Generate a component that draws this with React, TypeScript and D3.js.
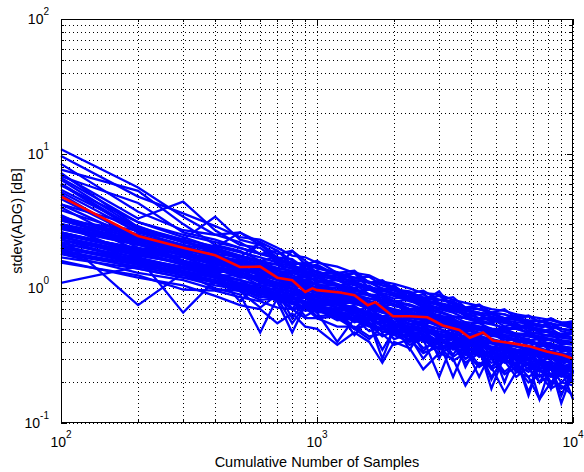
import React from "react";
import * as d3 from "d3";

const WIDTH = 584;
const HEIGHT = 472;
const Plot = { left: 61, top: 19, right: 573, bottom: 423 };
const FONT = "'Liberation Sans', Arial, Helvetica, sans-serif";

// cumulative sample counts where each run was evaluated
const sampleCounts = [
  100, 200, 300, 400, 500, 600, 700, 800, 900, 1000, 1200, 1400, 1600, 1800,
  2000, 2300, 2600, 3000, 3400, 3800, 4300, 4800, 5400, 6000, 6700, 7400,
  8200, 9000, 10000,
];

// stdev(ADG) per run
const runs: number[][] = [
  [10.8, 5.6, 3.4, 2.5, 2.6, 2.1, 1.8, 1.9, 1.5, 1.6, 1.3, 1.35, 1.1, 1.15, 1.0, 0.92, 0.96, 0.82, 0.86, 0.72, 0.76, 0.66, 0.7, 0.6, 0.63, 0.56, 0.6, 0.55, 0.57],
  [8.4, 3.7, 2.7, 2.5, 2.2, 1.8, 1.9, 1.6, 1.45, 1.5, 1.25, 1.2, 1.22, 1.05, 1.02, 0.9, 0.84, 0.88, 0.76, 0.72, 0.7, 0.66, 0.6, 0.62, 0.56, 0.58, 0.52, 0.54, 0.5],
  [7.6, 5.3, 3.0, 2.1, 1.9, 1.6, 1.7, 1.45, 1.3, 1.35, 1.15, 1.0, 1.05, 0.9, 0.84, 0.88, 0.74, 0.7, 0.72, 0.62, 0.58, 0.6, 0.52, 0.55, 0.48, 0.5, 0.46, 0.44, 0.46],
  [7.0, 3.3, 4.4, 2.7, 2.1, 2.0, 1.6, 1.55, 1.5, 1.3, 1.3, 1.15, 1.1, 1.0, 0.96, 0.86, 0.9, 0.78, 0.74, 0.7, 0.64, 0.66, 0.58, 0.6, 0.54, 0.52, 0.55, 0.5, 0.48],
  [6.4, 2.8, 2.3, 3.4, 2.3, 2.1, 1.7, 1.65, 1.4, 1.45, 1.25, 1.3, 1.1, 1.1, 0.98, 0.95, 0.84, 0.82, 0.8, 0.72, 0.7, 0.66, 0.64, 0.6, 0.62, 0.56, 0.58, 0.55, 0.53],
  [5.8, 3.1, 2.4, 2.0, 2.6, 2.2, 1.6, 1.5, 1.55, 1.3, 1.2, 1.12, 0.98, 1.0, 0.88, 0.84, 0.8, 0.7, 0.74, 0.62, 0.64, 0.56, 0.58, 0.5, 0.52, 0.47, 0.5, 0.44, 0.46],
  [5.2, 2.6, 2.3, 1.8, 1.7, 2.2, 1.9, 1.5, 1.35, 1.25, 1.05, 1.08, 0.9, 0.82, 0.8, 0.7, 0.72, 0.62, 0.6, 0.52, 0.56, 0.48, 0.5, 0.44, 0.46, 0.41, 0.42, 0.38, 0.4],
  [4.6, 2.4, 2.1, 1.7, 1.6, 1.45, 1.4, 1.9, 1.6, 1.4, 1.32, 1.15, 1.12, 0.98, 1.0, 0.86, 0.84, 0.74, 0.72, 0.64, 0.66, 0.56, 0.6, 0.52, 0.54, 0.48, 0.5, 0.45, 0.47],
  [4.2, 2.3, 1.75, 1.65, 1.35, 1.4, 1.15, 1.05, 1.08, 1.0, 0.9, 0.92, 0.8, 0.74, 0.76, 0.68, 0.6, 0.64, 0.56, 0.55, 0.5, 0.47, 0.48, 0.44, 0.41, 0.42, 0.38, 0.37, 0.36],
  [3.8, 2.5, 1.9, 1.55, 1.6, 1.3, 1.25, 1.18, 1.1, 1.0, 1.02, 0.88, 0.84, 0.8, 0.74, 0.7, 0.68, 0.6, 0.58, 0.54, 0.52, 0.5, 0.45, 0.44, 0.42, 0.38, 0.39, 0.35, 0.34],
  [3.5, 1.9, 1.7, 1.4, 1.3, 1.2, 1.05, 1.0, 0.94, 0.88, 0.84, 0.76, 0.74, 0.68, 0.64, 0.6, 0.58, 0.52, 0.5, 0.46, 0.44, 0.42, 0.38, 0.37, 0.35, 0.33, 0.32, 0.3, 0.31],
  [3.2, 2.7, 2.0, 1.85, 1.45, 1.45, 1.2, 1.2, 1.0, 1.02, 0.88, 0.88, 0.76, 0.78, 0.66, 0.68, 0.58, 0.6, 0.5, 0.52, 0.45, 0.48, 0.4, 0.43, 0.37, 0.4, 0.34, 0.36, 0.32],
  [3.0, 1.75, 1.55, 1.25, 1.25, 1.05, 1.05, 0.88, 0.9, 0.76, 0.78, 0.66, 0.68, 0.56, 0.6, 0.48, 0.52, 0.42, 0.46, 0.36, 0.4, 0.32, 0.36, 0.29, 0.32, 0.27, 0.29, 0.25, 0.27],
  [2.8, 2.15, 1.55, 1.45, 1.2, 1.25, 1.05, 1.05, 0.9, 0.9, 0.78, 0.78, 0.7, 0.62, 0.64, 0.54, 0.56, 0.46, 0.5, 0.4, 0.44, 0.36, 0.4, 0.33, 0.36, 0.3, 0.33, 0.28, 0.3],
  [2.6, 1.95, 1.85, 1.45, 1.35, 1.1, 1.1, 0.92, 0.94, 0.8, 0.82, 0.68, 0.72, 0.58, 0.62, 0.5, 0.54, 0.43, 0.47, 0.38, 0.43, 0.34, 0.38, 0.3, 0.34, 0.28, 0.31, 0.26, 0.28],
  [2.45, 1.65, 1.45, 1.2, 1.15, 0.95, 1.0, 0.84, 0.86, 0.74, 0.76, 0.62, 0.64, 0.52, 0.56, 0.44, 0.48, 0.38, 0.43, 0.33, 0.38, 0.3, 0.33, 0.27, 0.3, 0.25, 0.27, 0.23, 0.25],
  [2.3, 1.6, 1.4, 1.25, 1.05, 1.05, 0.86, 0.88, 0.76, 0.78, 0.64, 0.66, 0.54, 0.57, 0.47, 0.5, 0.4, 0.43, 0.35, 0.38, 0.31, 0.34, 0.28, 0.3, 0.25, 0.28, 0.23, 0.25, 0.22],
  [2.1, 1.5, 1.35, 1.1, 1.08, 0.92, 0.92, 0.76, 0.8, 0.66, 0.68, 0.56, 0.6, 0.47, 0.52, 0.4, 0.45, 0.35, 0.4, 0.3, 0.35, 0.26, 0.31, 0.24, 0.28, 0.22, 0.26, 0.2, 0.24],
  [1.95, 1.4, 1.2, 1.12, 0.96, 0.94, 0.8, 0.78, 0.68, 0.7, 0.58, 0.6, 0.48, 0.52, 0.42, 0.46, 0.36, 0.4, 0.31, 0.36, 0.27, 0.32, 0.24, 0.28, 0.22, 0.25, 0.2, 0.23, 0.2],
  [1.8, 1.3, 1.15, 0.98, 0.96, 0.82, 0.84, 0.7, 0.72, 0.6, 0.62, 0.5, 0.54, 0.44, 0.48, 0.38, 0.42, 0.33, 0.37, 0.28, 0.33, 0.25, 0.29, 0.22, 0.26, 0.2, 0.23, 0.18, 0.21],
  [1.55, 1.25, 0.98, 0.96, 0.86, 0.8, 0.72, 0.7, 0.6, 0.6, 0.52, 0.52, 0.44, 0.46, 0.38, 0.42, 0.33, 0.37, 0.29, 0.33, 0.26, 0.3, 0.23, 0.26, 0.2, 0.23, 0.18, 0.2, 0.19],
  [1.1, 1.45, 1.35, 1.2, 1.0, 0.92, 0.84, 0.8, 0.72, 0.7, 0.62, 0.58, 0.55, 0.5, 0.47, 0.42, 0.42, 0.36, 0.37, 0.32, 0.33, 0.28, 0.3, 0.26, 0.27, 0.24, 0.25, 0.22, 0.23],
  [2.4, 0.75, 1.3, 1.1, 0.95, 0.72, 0.9, 0.7, 0.75, 0.62, 0.64, 0.5, 0.55, 0.48, 0.45, 0.4, 0.44, 0.35, 0.38, 0.3, 0.34, 0.22, 0.3, 0.27, 0.24, 0.28, 0.2, 0.24, 0.21],
  [3.0, 1.7, 0.66, 1.15, 1.0, 0.85, 0.95, 0.6, 0.8, 0.72, 0.7, 0.45, 0.6, 0.52, 0.55, 0.35, 0.5, 0.45, 0.32, 0.44, 0.38, 0.36, 0.2, 0.34, 0.3, 0.32, 0.18, 0.3, 0.27],
  [2.2, 1.6, 1.3, 1.0, 0.9, 0.47, 0.85, 0.8, 0.62, 0.7, 0.6, 0.5, 0.42, 0.52, 0.48, 0.44, 0.3, 0.42, 0.38, 0.36, 0.22, 0.34, 0.32, 0.3, 0.16, 0.28, 0.26, 0.14, 0.24],
  [2.6, 1.9, 1.5, 1.2, 1.1, 0.95, 0.8, 0.47, 0.75, 0.66, 0.4, 0.6, 0.56, 0.3, 0.5, 0.46, 0.42, 0.22, 0.4, 0.38, 0.36, 0.18, 0.32, 0.3, 0.28, 0.15, 0.27, 0.25, 0.15],
  [4.0, 2.0, 1.8, 1.6, 1.5, 2.2, 1.5, 1.4, 1.3, 1.1, 1.15, 1.3, 1.0, 0.95, 1.05, 0.85, 0.8, 0.95, 0.7, 0.68, 0.75, 0.6, 0.58, 0.64, 0.52, 0.5, 0.55, 0.48, 0.46],
  [1.6, 1.2, 1.05, 0.88, 0.75, 0.7, 0.55, 0.65, 0.52, 0.5, 0.38, 0.47, 0.4, 0.28, 0.4, 0.36, 0.25, 0.33, 0.3, 0.19, 0.28, 0.26, 0.17, 0.24, 0.22, 0.15, 0.2, 0.19, 0.16],
  [5.4, 2.8, 2.2, 1.9, 1.65, 1.5, 1.35, 1.25, 1.15, 1.2, 1.05, 0.95, 0.98, 0.88, 0.8, 0.82, 0.72, 0.7, 0.66, 0.6, 0.58, 0.55, 0.5, 0.52, 0.46, 0.44, 0.45, 0.41, 0.4],
  [3.4, 2.3, 1.6, 1.4, 1.2, 1.2, 1.0, 0.95, 0.85, 0.82, 0.72, 0.74, 0.62, 0.6, 0.55, 0.52, 0.5, 0.45, 0.43, 0.42, 0.37, 0.36, 0.34, 0.31, 0.3, 0.29, 0.27, 0.26, 0.25],
  [6.8, 4.3, 2.6, 2.3, 2.0, 1.8, 1.7, 1.45, 1.35, 1.25, 1.25, 1.1, 1.0, 0.96, 0.9, 0.82, 0.78, 0.76, 0.68, 0.66, 0.6, 0.6, 0.55, 0.54, 0.5, 0.48, 0.47, 0.45, 0.43],
  [9.6, 4.8, 3.6, 2.9, 2.4, 2.3, 2.0, 1.75, 1.7, 1.55, 1.45, 1.3, 1.25, 1.12, 1.08, 1.0, 0.92, 0.9, 0.82, 0.78, 0.74, 0.7, 0.68, 0.64, 0.62, 0.6, 0.58, 0.56, 0.55],
  [2.0, 1.55, 1.25, 1.35, 1.0, 1.05, 0.9, 0.82, 0.85, 0.72, 0.7, 0.66, 0.58, 0.6, 0.5, 0.48, 0.46, 0.38, 0.42, 0.34, 0.36, 0.3, 0.31, 0.24, 0.28, 0.25, 0.22, 0.24, 0.2],
  [2.9, 2.2, 1.6, 1.3, 1.4, 1.15, 1.1, 1.0, 0.88, 0.95, 0.8, 0.82, 0.7, 0.66, 0.68, 0.58, 0.55, 0.56, 0.48, 0.46, 0.45, 0.4, 0.39, 0.37, 0.35, 0.34, 0.32, 0.32, 0.3],
  [5.0, 2.3, 1.95, 1.7, 1.6, 1.45, 1.35, 1.3, 1.2, 1.15, 1.05, 1.0, 0.9, 0.88, 0.8, 0.76, 0.7, 0.68, 0.62, 0.6, 0.56, 0.55, 0.5, 0.5, 0.47, 0.46, 0.44, 0.43, 0.42],
  [2.05, 1.6, 1.4, 1.25, 1.15, 1.05, 0.95, 0.9, 0.85, 0.8, 0.72, 0.68, 0.62, 0.6, 0.55, 0.52, 0.5, 0.46, 0.44, 0.41, 0.4, 0.37, 0.36, 0.34, 0.33, 0.32, 0.31, 0.29, 0.29],
  [3.4, 2.4, 2.0, 1.7, 1.5, 1.35, 1.2, 1.1, 1.05, 0.95, 0.85, 0.78, 0.72, 0.66, 0.62, 0.57, 0.54, 0.5, 0.46, 0.43, 0.41, 0.39, 0.37, 0.35, 0.34, 0.33, 0.31, 0.3, 0.29],
  [2.3, 1.75, 1.55, 1.35, 1.3, 1.2, 1.1, 1.05, 1.0, 0.95, 0.88, 0.82, 0.76, 0.74, 0.7, 0.66, 0.62, 0.6, 0.56, 0.54, 0.52, 0.5, 0.48, 0.46, 0.45, 0.44, 0.42, 0.41, 0.4],
  [4.2, 2.9, 2.2, 2.0, 1.75, 1.55, 1.5, 1.3, 1.25, 1.12, 1.05, 0.92, 0.9, 0.78, 0.76, 0.66, 0.64, 0.58, 0.55, 0.5, 0.5, 0.45, 0.45, 0.4, 0.41, 0.37, 0.38, 0.34, 0.35],
  [1.9, 1.5, 1.3, 1.1, 1.05, 0.9, 0.9, 0.8, 0.78, 0.7, 0.68, 0.6, 0.6, 0.52, 0.54, 0.46, 0.48, 0.4, 0.44, 0.36, 0.4, 0.34, 0.37, 0.31, 0.34, 0.28, 0.32, 0.27, 0.3],
  [2.8, 2.1, 1.8, 1.5, 1.45, 1.25, 1.2, 1.08, 1.1, 0.96, 0.92, 0.8, 0.8, 0.7, 0.7, 0.6, 0.62, 0.54, 0.55, 0.48, 0.5, 0.44, 0.45, 0.4, 0.42, 0.37, 0.39, 0.34, 0.36],
  [3.0, 2.3, 1.9, 1.75, 1.6, 1.5, 1.4, 1.35, 1.3, 1.25, 1.15, 1.1, 1.0, 0.98, 0.92, 0.86, 0.82, 0.78, 0.72, 0.7, 0.66, 0.64, 0.6, 0.58, 0.56, 0.54, 0.52, 0.5, 0.49],
  [2.5, 2.0, 1.6, 1.45, 1.3, 1.15, 1.05, 1.0, 0.92, 0.85, 0.76, 0.7, 0.64, 0.6, 0.55, 0.52, 0.48, 0.45, 0.42, 0.39, 0.37, 0.35, 0.33, 0.32, 0.3, 0.29, 0.28, 0.27, 0.26],
  [6.0, 2.7, 2.2, 1.95, 1.75, 1.6, 1.5, 1.4, 1.35, 1.25, 1.15, 1.05, 0.98, 0.92, 0.88, 0.8, 0.76, 0.72, 0.68, 0.64, 0.6, 0.58, 0.56, 0.53, 0.52, 0.5, 0.48, 0.46, 0.46],
  [2.0, 1.65, 1.35, 1.2, 1.1, 1.0, 0.92, 0.86, 0.8, 0.74, 0.7, 0.5, 0.62, 0.58, 0.52, 0.5, 0.34, 0.45, 0.42, 0.38, 0.36, 0.26, 0.34, 0.32, 0.3, 0.2, 0.28, 0.27, 0.25],
  [2.4, 1.85, 1.5, 1.4, 1.25, 1.12, 1.05, 0.98, 0.9, 0.86, 0.78, 0.72, 0.66, 0.62, 0.6, 0.55, 0.53, 0.5, 0.46, 0.44, 0.42, 0.4, 0.38, 0.37, 0.35, 0.34, 0.33, 0.31, 0.3],
  [3.2, 2.2, 2.0, 1.65, 1.62, 1.4, 1.35, 1.2, 1.22, 1.05, 1.06, 0.9, 0.9, 0.78, 0.8, 0.7, 0.7, 0.62, 0.62, 0.56, 0.55, 0.5, 0.5, 0.46, 0.46, 0.43, 0.42, 0.4, 0.4],
  [1.7, 1.4, 1.2, 1.05, 0.98, 0.88, 0.82, 0.78, 0.72, 0.68, 0.62, 0.58, 0.52, 0.5, 0.46, 0.44, 0.41, 0.38, 0.36, 0.34, 0.32, 0.31, 0.29, 0.28, 0.27, 0.26, 0.25, 0.24, 0.23],
  [2.6, 1.95, 1.7, 1.5, 1.38, 1.25, 1.15, 1.08, 1.02, 0.96, 0.88, 0.8, 0.74, 0.7, 0.66, 0.62, 0.58, 0.55, 0.52, 0.49, 0.46, 0.45, 0.42, 0.41, 0.39, 0.38, 0.36, 0.35, 0.34],
  [5.9, 2.6, 2.1, 1.9, 1.7, 1.55, 1.42, 1.35, 1.28, 1.2, 1.08, 0.98, 0.88, 0.82, 0.76, 0.7, 0.64, 0.6, 0.56, 0.52, 0.49, 0.47, 0.44, 0.42, 0.4, 0.39, 0.37, 0.36, 0.35],
  [2.9, 2.15, 1.75, 1.6, 1.45, 1.3, 1.25, 1.15, 1.1, 1.0, 0.94, 0.86, 0.8, 0.75, 0.5, 0.66, 0.62, 0.58, 0.56, 0.4, 0.5, 0.48, 0.45, 0.44, 0.3, 0.4, 0.39, 0.37, 0.36],
  [2.15, 1.7, 1.42, 1.3, 1.15, 1.05, 0.96, 0.9, 0.86, 0.8, 0.72, 0.66, 0.6, 0.58, 0.54, 0.5, 0.48, 0.44, 0.42, 0.4, 0.38, 0.36, 0.35, 0.33, 0.32, 0.31, 0.3, 0.29, 0.28],
  [7.2, 2.85, 2.3, 2.05, 1.85, 1.7, 1.55, 1.45, 1.4, 1.3, 1.2, 1.12, 1.02, 0.98, 0.92, 0.85, 0.8, 0.76, 0.7, 0.68, 0.64, 0.62, 0.58, 0.56, 0.55, 0.53, 0.51, 0.5, 0.48],
  [1.85, 1.5, 1.3, 1.15, 1.02, 0.98, 0.86, 0.84, 0.76, 0.74, 0.66, 0.63, 0.55, 0.55, 0.48, 0.48, 0.42, 0.42, 0.37, 0.37, 0.33, 0.34, 0.3, 0.31, 0.27, 0.28, 0.25, 0.26, 0.24],
  [3.0, 2.25, 1.85, 1.65, 1.5, 1.38, 1.28, 1.2, 1.15, 1.08, 0.98, 0.9, 0.84, 0.8, 0.74, 0.7, 0.66, 0.62, 0.58, 0.55, 0.52, 0.5, 0.47, 0.46, 0.44, 0.42, 0.41, 0.39, 0.38],
  [2.5, 1.9, 1.6, 1.42, 1.3, 1.2, 1.1, 0.7, 0.98, 0.92, 0.84, 0.78, 0.7, 0.68, 0.62, 0.58, 0.56, 0.3, 0.5, 0.47, 0.44, 0.42, 0.4, 0.25, 0.37, 0.36, 0.34, 0.33, 0.32],
  [3.3, 2.5, 2.05, 1.75, 1.6, 1.45, 1.35, 1.28, 1.55, 1.15, 1.05, 0.96, 0.9, 0.85, 0.8, 0.74, 0.7, 0.66, 0.62, 0.6, 0.56, 0.54, 0.51, 0.5, 0.47, 0.46, 0.44, 0.43, 0.42],
  [2.3, 1.8, 1.5, 1.3, 0.8, 1.1, 1.0, 0.95, 0.88, 0.82, 0.75, 0.7, 0.64, 0.61, 0.57, 0.54, 0.5, 0.48, 0.45, 0.26, 0.4, 0.39, 0.37, 0.35, 0.34, 0.33, 0.19, 0.3, 0.29],
  [2.75, 2.1, 1.75, 1.55, 1.4, 1.28, 1.18, 1.12, 1.05, 1.0, 0.9, 0.84, 0.76, 0.72, 0.68, 0.63, 0.6, 0.56, 0.53, 0.5, 0.47, 0.46, 0.43, 0.42, 0.4, 0.39, 0.37, 0.36, 0.35],
  [6.6, 3.1, 2.5, 2.2, 2.0, 1.8, 1.65, 1.55, 1.5, 1.42, 1.3, 1.2, 1.1, 1.05, 0.98, 0.92, 0.86, 0.82, 0.78, 0.72, 0.7, 0.66, 0.64, 0.6, 0.58, 0.57, 0.55, 0.53, 0.52],
  [1.8, 1.45, 1.25, 1.1, 1.0, 0.92, 0.85, 0.55, 0.75, 0.7, 0.64, 0.6, 0.55, 0.35, 0.49, 0.46, 0.43, 0.4, 0.22, 0.36, 0.34, 0.33, 0.31, 0.3, 0.17, 0.27, 0.26, 0.25, 0.24],
  [3.2, 2.35, 1.95, 1.7, 1.55, 1.4, 1.3, 1.2, 1.12, 1.05, 0.95, 0.86, 0.8, 0.74, 0.68, 0.62, 0.58, 0.53, 0.5, 0.46, 0.43, 0.42, 0.39, 0.37, 0.36, 0.35, 0.33, 0.32, 0.31],
  [2.4, 1.8, 1.55, 1.38, 1.28, 1.18, 1.1, 1.05, 1.0, 0.94, 0.86, 0.82, 0.76, 0.72, 0.68, 0.65, 0.62, 0.58, 0.56, 0.53, 0.5, 0.49, 0.47, 0.45, 0.44, 0.43, 0.41, 0.4, 0.39],
  [2.0, 1.55, 1.32, 1.2, 1.08, 0.98, 0.9, 0.84, 0.8, 0.74, 0.68, 0.63, 0.58, 0.55, 0.5, 0.47, 0.45, 0.41, 0.39, 0.36, 0.35, 0.21, 0.32, 0.3, 0.29, 0.28, 0.27, 0.16, 0.25],
];

// mean curve (red)
const meanCounts = [
  100, 200, 300, 400, 500, 600, 700, 800, 900, 960, 1000, 1230, 1400, 1580,
  1690, 1980, 2300, 2700, 3100, 3600, 3950, 4450, 4870, 5830, 6800, 7900,
  9100, 10000,
];
const meanStd = [
  4.8, 2.45, 2.0, 1.76, 1.44, 1.45, 1.2, 1.15, 0.94, 1.0, 0.97, 0.93, 0.89,
  0.75, 0.79, 0.62, 0.62, 0.61, 0.53, 0.49, 0.43, 0.47, 0.41, 0.39, 0.37, 0.34,
  0.32, 0.3,
];

const xDecades = [2, 3, 4];
const yDecades = [-1, 0, 1, 2];

const xScale = d3.scaleLog().domain([100, 10000]).range([Plot.left, Plot.right]);
const yScale = d3.scaleLog().domain([0.1, 100]).range([Plot.bottom, Plot.top]);

const isDecade = (v: number) => Math.abs(Math.log10(v) - Math.round(Math.log10(v))) < 1e-9;

export default function App() {
  const lineGen = d3
    .line<number>()
    .x((_, i) => xScale(sampleCounts[i]))
    .y((d) => yScale(d));

  const meanLine = d3
    .line<number>()
    .x((_, i) => xScale(meanCounts[i]))
    .y((d) => yScale(d));

  const xTicks = xScale.ticks();
  const yTicks = yScale.ticks();

  return (
    <svg
      width={WIDTH}
      height={HEIGHT}
      style={{ position: "absolute", left: 0, top: 0, background: "#fff" }}
      fontFamily={FONT}
    >
      <rect x={0} y={0} width={WIDTH} height={HEIGHT} fill="#fff" />

      {/* grid */}
      <g stroke="#000" strokeWidth={1} strokeDasharray="1 3">
        {xTicks.map((t) => (
          <line key={"gx" + t} x1={Math.round(xScale(t)) + 0.5} x2={Math.round(xScale(t)) + 0.5} y1={Plot.top} y2={Plot.bottom} />
        ))}
        {yTicks.map((t) => (
          <line key={"gy" + t} x1={Plot.left} x2={Plot.right} y1={Math.round(yScale(t)) + 0.5} y2={Math.round(yScale(t)) + 0.5} />
        ))}
      </g>

      {/* runs */}
      <g fill="none" stroke="#0000ff" strokeWidth={2.3}>
        {runs.map((r, i) => (
          <path key={i} d={lineGen(r) || ""} />
        ))}
      </g>
      <path d={meanLine(meanStd) || ""} fill="none" stroke="#ff0000" strokeWidth={2.6} />

      {/* axes box + ticks */}
      <g stroke="#000" strokeWidth={1}>
        <rect x={Plot.left + 0.5} y={Plot.top + 0.5} width={Plot.right - Plot.left - 1} height={Plot.bottom - Plot.top - 1} fill="none" />
        {xTicks.map((t) => {
          const px = Math.round(xScale(t)) + 0.5;
          const len = isDecade(t) ? 6 : 3;
          return (
            <g key={"tx" + t}>
              <line x1={px} x2={px} y1={Plot.bottom} y2={Plot.bottom - len} />
              <line x1={px} x2={px} y1={Plot.top} y2={Plot.top + len} />
            </g>
          );
        })}
        {yTicks.map((t) => {
          const py = Math.round(yScale(t)) + 0.5;
          const len = isDecade(t) ? 6 : 3;
          return (
            <g key={"ty" + t}>
              <line x1={Plot.left} x2={Plot.left + len} y1={py} y2={py} />
              <line x1={Plot.right} x2={Plot.right - len} y1={py} y2={py} />
            </g>
          );
        })}
      </g>

      {/* tick labels */}
      <g fill="#000" fontSize={14}>
        {xDecades.map((e) => (
          <text key={"lx" + e} x={xScale(Math.pow(10, e))} y={447} textAnchor="middle">
            10
            <tspan dy={-9} fontSize={10}>{e}</tspan>
          </text>
        ))}
        {yDecades.map((e) => (
          <text key={"ly" + e} x={49} y={yScale(Math.pow(10, e)) + 5} textAnchor="end">
            10
            <tspan dy={-9} fontSize={10}>{e}</tspan>
          </text>
        ))}
      </g>

      <text x={(Plot.left + Plot.right) / 2} y={467} textAnchor="middle" fontSize={14.5} fill="#000">
        Cumulative Number of Samples
      </text>
      <text
        transform={`translate(22, ${(Plot.top + Plot.bottom) / 2}) rotate(-90)`}
        textAnchor="middle"
        fontSize={14.5}
        fill="#000"
      >
        stdev(ADG) [dB]
      </text>
    </svg>
  );
}
